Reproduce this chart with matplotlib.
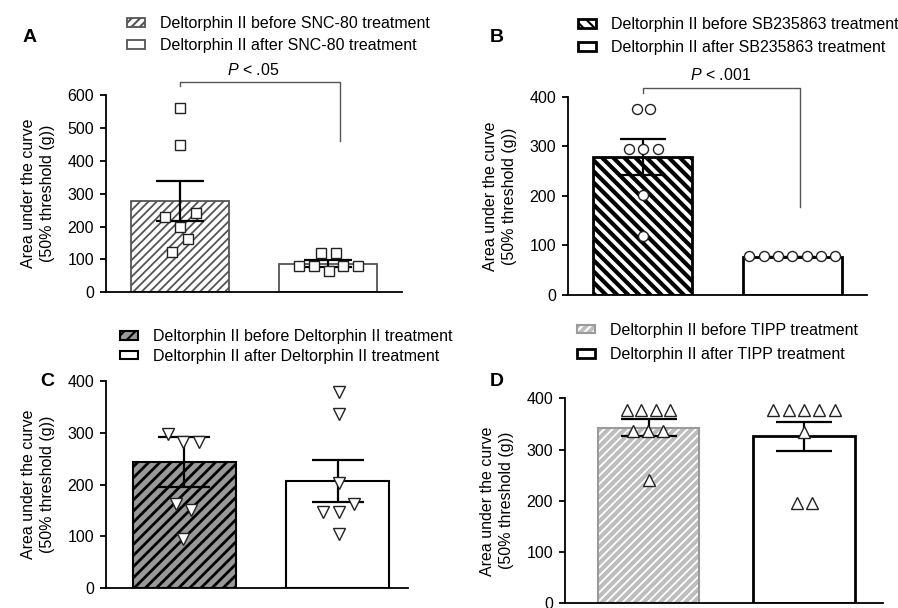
import numpy as np
import matplotlib.pyplot as plt
from matplotlib.legend_handler import HandlerTuple

plt.rcParams['font.family'] = ['Liberation Sans', 'DejaVu Sans']
plt.rcParams['font.size'] = 11.5
plt.rcParams['mathtext.fontset'] = 'custom'
plt.rcParams['mathtext.it'] = 'Liberation Sans:italic'
plt.rcParams['mathtext.rm'] = 'Liberation Sans'

W, H = 898, 608
ylabel = 'Area under the curve\n(50% threshold (g))'

# ---- data (A) SNC-80
a_labels = ['Deltorphin II before SNC-80 treatment', 'Deltorphin II after SNC-80 treatment']
a_means = [278, 87]
a_sem = [61, 10]
a_pts = [[561, 447, 242, 228, 200, 161, 122],
         [121, 121, 81, 81, 66, 81, 81]]
a_jit = [[0, 0, 0.105, -0.098, 0, 0.054, -0.051],
         [-0.047, 0.054, -0.199, -0.097, 0.005, 0.104, 0.201]]

# ---- data (B) SB235863
b_labels = ['Deltorphin II before SB235863 treatment', 'Deltorphin II after SB235863 treatment']
b_means = [278, 77]
b_sem = [36, 0]
b_pts = [[376, 376, 294, 294, 294, 201, 119],
         [79, 79, 79, 79, 79, 79, 79]]
b_jit = [[-0.039, 0.05, -0.095, 0.005, 0.1, 0, 0],
         [-0.287, -0.191, -0.096, 0, 0.096, 0.191, 0.287]]

# ---- data (C) Deltorphin II
c_labels = ['Deltorphin II before Deltorphin II treatment', 'Deltorphin II after Deltorphin II treatment']
c_means = [244, 207]
c_sem = [48, 40]
c_pts = [[297, 283, 283, 162, 151, 95],
         [378, 336, 204, 162, 148, 148, 104]]
c_jit = [[-0.105, -0.008, 0.096, -0.057, 0.042, -0.008],
         [0.007, 0.007, 0.007, 0.104, -0.096, 0.007, 0.007]]

# ---- data (D) TIPP
d_labels = ['Deltorphin II before TIPP treatment', 'Deltorphin II after TIPP treatment']
d_means = [343, 326]
d_sem = [17, 28]
d_pts = [[377, 377, 377, 377, 337, 337, 337, 241],
         [377, 377, 377, 377, 377, 335, 196, 196]]
d_jit = [[-0.14, -0.048, 0.046, 0.138, -0.102, -0.005, 0.095, 0],
         [-0.197, -0.098, 0, 0.098, 0.199, 0, -0.047, 0.05]]

fig = plt.figure(figsize=(W / 100, H / 100), dpi=100)


def px_rect(x0, ybot, x1, ytop):
    return [x0 / W, 1 - ybot / H, (x1 - x0) / W, (ybot - ytop) / H]


def panel(rect, xlim, width, means, sem, pts, jit, marker, ms, ylim, yticks,
          styles, capsize, labels, leg_xy, leg_space, letter, letter_xy):
    ax = fig.add_axes(rect)
    x = np.arange(len(means))
    handles = []
    for i, st in enumerate(styles):
        hb = ax.bar(x[i], means[i], width, color=st['face'], edgecolor=st['hcolor'],
                    hatch=st['hatch'], linewidth=0, zorder=1)
        for p in hb:
            if st['hatch'] and hasattr(p, 'set_hatch_linewidth'):
                p.set_hatch_linewidth(st['hlw'])
        ob = ax.bar(x[i], means[i], width, fill=False, edgecolor=st['edge'],
                    linewidth=st['lw'], zorder=2)
        handles.append((hb, ob))
    ax.errorbar(x, means, yerr=sem, fmt='none', ecolor='black', elinewidth=1.6,
                capsize=capsize, capthick=1.6, zorder=3)
    for i in range(len(pts)):
        ax.plot(x[i] + np.array(jit[i]), pts[i], ls='none', marker=marker, ms=ms,
                mfc='white', mec='#222222', mew=1.0, zorder=4, clip_on=False)
    ax.set_xlim(*xlim)
    ax.set_ylim(*ylim)
    ax.set_yticks(yticks)
    ax.set_xticks([])
    for s in ['top', 'right']:
        ax.spines[s].set_visible(False)
    for s in ['left', 'bottom']:
        ax.spines[s].set_linewidth(1.3)
    ax.tick_params(axis='y', length=4.5, width=1.3, pad=4)
    ax.set_ylabel(ylabel, linespacing=1.35, labelpad=9)
    ax.legend(handles, labels, handler_map={tuple: HandlerTuple(ndivide=1)},
              loc='center left', bbox_to_anchor=(leg_xy[0] / W, 1 - leg_xy[1] / H),
              bbox_transform=fig.transFigure, frameon=False, borderpad=0,
              borderaxespad=0, handlelength=1.15, handleheight=0.45,
              handletextpad=0.9, labelspacing=leg_space)
    fig.text(letter_xy[0] / W, 1 - letter_xy[1] / H, letter, fontsize=14,
             fontweight='bold', ha='center', va='center')
    return ax


plt.rcParams['hatch.linewidth'] = 1.5

ax = panel(px_rect(106, 292.3, 402, 95), (-0.5, 1.5), 0.66, a_means, a_sem, a_pts, a_jit,
           's', 7, (0, 600), range(0, 601, 100),
           [dict(face='white', hatch='////', hcolor='#555555', hlw=1.3, edge='#555555', lw=1.3),
            dict(face='white', hatch='', hcolor='#555555', hlw=1, edge='#555555', lw=1.3)],
           17, a_labels, (127, 34.7), 0.45, 'A', (30, 37))
ax.plot([0, 0, 1.08, 1.08], [627, 639, 639, 460], color='#555555', lw=1, clip_on=False)
ax.text(0.493, 676, '$P$ < .05', ha='center', va='center')

ax = panel(px_rect(568, 295, 867, 96.7), (-0.5, 1.5), 0.66, b_means, b_sem, b_pts, b_jit,
           'o', 7.2, (0, 400), range(0, 401, 100),
           [dict(face='white', hatch='\\\\\\', hcolor='black', hlw=3.0, edge='black', lw=2),
            dict(face='white', hatch='', hcolor='black', hlw=1, edge='black', lw=2)],
           16.5, b_labels, (578, 36), 0.5, 'B', (497, 37))
ax.plot([0, 0, 1.05, 1.05], [407, 417, 417, 177], color='#555555', lw=1, clip_on=False)
ax.text(0.523, 444, '$P$ < .001', ha='center', va='center')

panel(px_rect(106, 588.3, 408, 381), (-0.51, 1.456), 0.67, c_means, c_sem, c_pts, c_jit,
      'v', 8, (0, 400), range(0, 401, 100),
      [dict(face='#999999', hatch='///', hcolor='black', hlw=2.0, edge='black', lw=1.5),
       dict(face='white', hatch='', hcolor='black', hlw=1, edge='black', lw=1.5)],
      18.5, c_labels, (120, 346.5), 0.28, 'C', (47, 382))

panel(px_rect(565, 603.3, 883, 398.3), (-0.537, 1.508), 0.65, d_means, d_sem, d_pts, d_jit,
      '^', 8, (0, 400), range(0, 401, 100),
      [dict(face='#bdbdbd', hatch='////', hcolor='white', hlw=1.3, edge='#9a9a9a', lw=1.5),
       dict(face='white', hatch='', hcolor='black', hlw=1, edge='black', lw=2)],
      20.5, d_labels, (577, 342.5), 0.62, 'D', (497, 382))

fig.savefig('out.png', dpi=100)
